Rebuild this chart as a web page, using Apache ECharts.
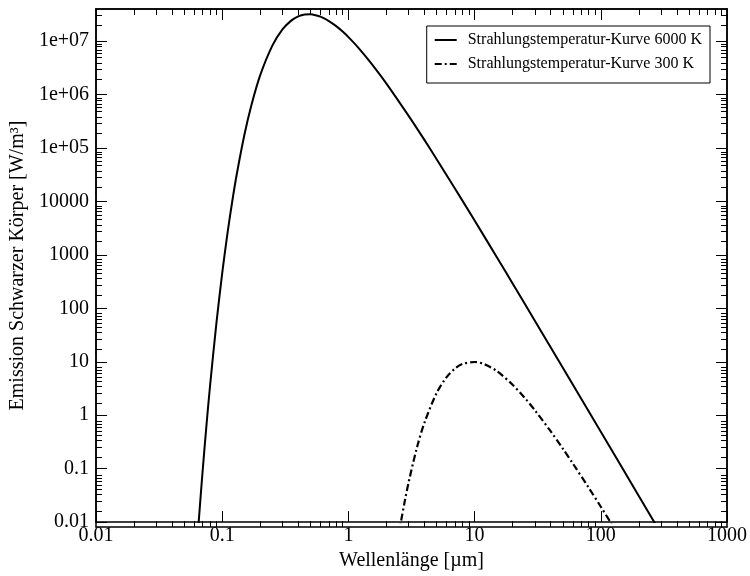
<!DOCTYPE html>
<html>
<head>
<meta charset="utf-8">
<script src="https://cdn.jsdelivr.net/npm/echarts@6/dist/echarts.min.js"></script>
<style>html,body{margin:0;padding:0;background:#fff}#c{width:750px;height:576px}</style>
</head>
<body>
<div id="c"></div>
<script>
// Wavelength (µm) and emission values
var lambda6000 = [0.06, 0.065, 0.07, 0.075, 0.08, 0.09, 0.1, 0.11, 0.12, 0.13, 0.15, 0.17, 0.2, 0.25, 0.3, 0.35, 0.4, 0.45, 0.5, 0.55, 0.6, 0.7, 0.8, 0.9, 1, 1.2, 1.5, 2, 3, 4, 5, 7, 10, 15, 20, 30, 50, 100, 200, 300];
var values6000 = [6.7e-4, 9.78e-3, 0.0936, 0.653, 3.49, 54.1, 459, 2519, 1.0e4, 3.13e4, 1.79e5, 6.27e5, 2.31e6, 8.33e6, 1.66e7, 2.40e7, 2.91e7, 3.15e7, 3.18e7, 3.06e7, 2.87e7, 2.38e7, 1.91e7, 1.51e7, 1.19e7, 7.51e6, 3.97e6, 1.61e6, 4.0e5, 1.42e5, 6.19e4, 1.73e4, 4395, 905, 292, 58.9, 7.76, 0.491, 0.0309, 6.1e-3];
var lambda300 = [2.5, 2.6, 2.8, 3, 3.5, 4, 5, 6, 7, 8, 10, 12, 15, 20, 25, 30, 40, 50, 60, 80, 100, 120, 130];
var values300 = [5.69e-3, 9.77e-3, 0.0252, 0.0559, 0.254, 0.722, 2.60, 5.18, 7.51, 9.08, 9.92, 8.96, 6.69, 3.72, 2.10, 1.24, 0.502, 0.237, 0.125, 0.0443, 0.0194, 9.74e-3, 7.19e-3];
var seriesNames = ['Strahlungstemperatur-Kurve 6000 K', 'Strahlungstemperatur-Kurve 300 K'];
var xTickValues = [0.01, 0.1, 1, 10, 100, 1000];
var xTickLabels = ['0.01', '0.1', '1', '10', '100', '1000'];
var yTickValues = [0.01, 0.1, 1, 10, 100, 1000, 10000, 1e5, 1e6, 1e7];
var yTickLabels = ['0.01', '0.1', '1', '10', '100', '1000', '10000', '1e+05', '1e+06', '1e+07'];
var xTitle = 'Wellenlänge [µm]';
var yTitle = 'Emission Schwarzer Körper [W/m³]';
var xMin = 0.01, xMax = 1000, yMin = 0.01, yMax = 4e7;

function minors(majors, last) {
  var out = [];
  for (var i = 0; i < majors.length; i++) {
    for (var k = 2; k <= 9; k++) {
      var v = majors[i] * k;
      if (v < last) out.push(v);
    }
  }
  return out;
}
var xMinor = minors(xTickValues, xMax);
var yMinor = minors(yTickValues, yMax);

function pairs(xs, ys) { return xs.map(function (x, i) { return [x, ys[i]]; }); }
function labelFor(values, labels) {
  return function (v) {
    var e = Math.round(Math.log10(v));
    for (var i = 0; i < values.length; i++) if (Math.round(Math.log10(values[i])) === e) return labels[i];
    return '';
  };
}

var FONT = 'Liberation Serif';
var axisLine = { show: true, lineStyle: { color: '#000', width: 1.5 } };
function mkX(grid, pos, major, withLabel) {
  return {
    type: 'log', logBase: 10, gridIndex: grid, position: pos, min: xMin, max: xMax,
    axisLine: axisLine,
    axisTick: { show: true, inside: true, length: major ? 11 : 6, customValues: major ? xTickValues : xMinor, lineStyle: { color: '#000', width: 1 } },
    axisLabel: withLabel ? { show: true, customValues: xTickValues, formatter: labelFor(xTickValues, xTickLabels), color: '#000', fontFamily: FONT, fontSize: 20, margin: 4 } : { show: false },
    splitLine: { show: false }, minorTick: { show: false },
    name: withLabel ? xTitle : '', nameLocation: 'middle', nameGap: 26,
    nameTextStyle: { color: '#000', fontFamily: FONT, fontSize: 20 }
  };
}
function mkY(grid, pos, major, withLabel) {
  return {
    type: 'log', logBase: 10, gridIndex: grid, position: pos, min: yMin, max: yMax,
    axisLine: axisLine,
    axisTick: { show: true, inside: true, length: major ? 11 : 6, customValues: major ? yTickValues : yMinor, lineStyle: { color: '#000', width: 1 } },
    axisLabel: withLabel ? { show: true, customValues: yTickValues, formatter: labelFor(yTickValues, yTickLabels), color: '#000', fontFamily: FONT, fontSize: 20, margin: 7 } : { show: false },
    splitLine: { show: false }, minorTick: { show: false },
    name: withLabel ? yTitle : '', nameLocation: 'middle', nameGap: 61, nameRotate: 90,
    nameTextStyle: { color: '#000', fontFamily: FONT, fontSize: 20 }
  };
}

var gridPos = { left: 96, right: 23, top: 9, bottom: 49, containLabel: false };
var chart = echarts.init(document.getElementById('c'), null, { renderer: 'canvas' });
chart.setOption({
  backgroundColor: '#fff',
  animation: false,
  textStyle: { fontFamily: FONT },
  grid: [Object.assign({}, gridPos), Object.assign({}, gridPos)],
  xAxis: [mkX(0, 'bottom', true, true), mkX(0, 'top', true, false), mkX(1, 'bottom', false, false), mkX(1, 'top', false, false)],
  yAxis: [mkY(0, 'left', true, true), mkY(0, 'right', true, false), mkY(1, 'left', false, false), mkY(1, 'right', false, false)],
  legend: {
    right: 40, top: 26, orient: 'vertical',
    borderColor: '#000', borderWidth: 1, borderRadius: 0,
    padding: [6, 8, 11, 7], itemGap: 8, itemWidth: 22, itemHeight: 14,
    itemStyle: { opacity: 0 },
    textStyle: { color: '#000', fontFamily: FONT, fontSize: 16, padding: [0, 0, 0, 6] },
    data: seriesNames
  },
  series: [
    { name: seriesNames[0], type: 'line', xAxisIndex: 0, yAxisIndex: 0, data: pairs(lambda6000, values6000), symbol: 'none', showSymbol: false, smooth: 0.3, clip: true, lineStyle: { color: '#000', width: 2 }, itemStyle: { color: '#000' } },
    { name: seriesNames[1], type: 'line', xAxisIndex: 0, yAxisIndex: 0, data: pairs(lambda300, values300), symbol: 'none', showSymbol: false, smooth: 0.3, clip: true, lineStyle: { color: '#000', width: 2.2, type: [7, 3, 2, 3] }, itemStyle: { color: '#000' } }
  ]
});
</script>
</body>
</html>
